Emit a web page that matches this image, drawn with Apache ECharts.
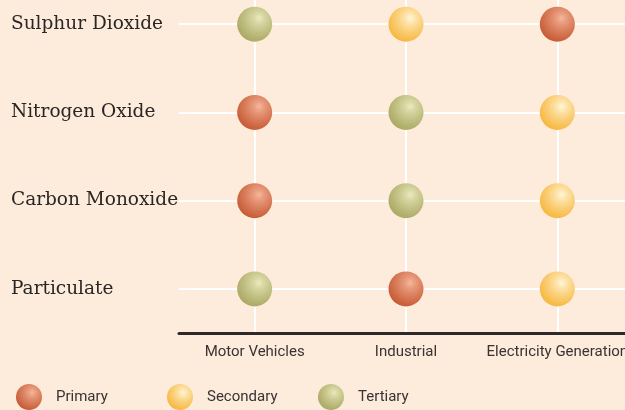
<!DOCTYPE html>
<html><head><meta charset="utf-8">
<script src="https://cdn.jsdelivr.net/npm/echarts@6/dist/echarts.min.js"></script>
<style>html,body{margin:0;padding:0;background:#fdebdb;}#c{width:625px;height:410px;}</style>
</head><body><div id="c"></div>
<script>
// ---- data ----
const sources = ['Motor Vehicles', 'Industrial', 'Electricity Generation'];
const pollutants = ['Sulphur Dioxide', 'Nitrogen Oxide', 'Carbon Monoxide', 'Particulate'];
const levels = ['Primary', 'Secondary', 'Tertiary'];
// which source has which rank, per pollutant
const primaryPoints = [['Electricity Generation','Sulphur Dioxide'],['Motor Vehicles','Nitrogen Oxide'],['Motor Vehicles','Carbon Monoxide'],['Industrial','Particulate']];
const secondaryPoints = [['Industrial','Sulphur Dioxide'],['Electricity Generation','Nitrogen Oxide'],['Electricity Generation','Carbon Monoxide'],['Electricity Generation','Particulate']];
const tertiaryPoints = [['Motor Vehicles','Sulphur Dioxide'],['Industrial','Nitrogen Oxide'],['Industrial','Carbon Monoxide'],['Motor Vehicles','Particulate']];

// ---- style ----
function mix(a, b, t) {
  const pa = a.match(/\w\w/g).map(h => parseInt(h, 16));
  const pb = b.match(/\w\w/g).map(h => parseInt(h, 16));
  t = Math.max(0, Math.min(1, t));
  return 'rgb(' + pa.map((v, i) => Math.round(v + (pb[i] - v) * t)).join(',') + ')';
}
function ball(inner, outer) {
  const stops = [];
  const n = 12;
  for (let i = 0; i < n; i++) {
    const t0 = i / n, t1 = (i + 1) / n;
    const base = Math.pow(t0, 0.8);
    stops.push({offset: t0, color: mix(inner, outer, base - 0.03)});
    stops.push({offset: t1 - 0.01, color: mix(inner, outer, base + 0.1)});
  }
  stops.push({offset: 1, color: mix(inner, outer, 1.0)});
  return {type: 'radial', x: 0.62, y: 0.33, r: 0.85, colorStops: stops};
}
const fills = [ball('f6b79c', 'bf4b24'), ball('fff6d8', 'f5ad25'), ball('ebeabd', 'a09e55')];

const labelFont = {fontFamily: 'Roboto, sans-serif'};
const legendLeft = [16, 167, 318];
const chart = echarts.init(document.getElementById('c'), null, {renderer: 'canvas'});
const gridLine = {color: '#ffffff', width: 2, type: 'solid'};
chart.setOption({
  backgroundColor: '#fdebdb',
  animation: false,
  grid: {left: 179, right: -8, top: -20, bottom: 77, containLabel: false, outerBoundsMode: 'none'},
  xAxis: {
    type: 'category', data: sources, boundaryGap: true,
    axisLine: {show: true, lineStyle: {color: '#2e2828', width: 3}},
    axisTick: {show: false}, splitLine: {show: false},
    axisLabel: Object.assign({interval: 0, margin: 12, color: '#3a3333', fontSize: 15}, labelFont)
  },
  yAxis: {
    type: 'category', data: pollutants, inverse: true, boundaryGap: true,
    axisLine: {show: false}, axisTick: {show: false}, splitLine: {show: false},
    axisLabel: {align: 'left', margin: 168, padding: [0, 0, 5, 0], color: '#2a2626', fontSize: 18.5, fontFamily: '"DejaVu Serif", serif'}
  },
  legend: levels.map((l, i) => ({
    left: legendLeft[i], top: 384, padding: 0, itemWidth: 26, itemHeight: 26, icon: 'circle',
    data: [l],
    textStyle: Object.assign({color: '#3a3333', fontSize: 15, padding: [2, 0, 0, 9]}, labelFont)
  })),
  series: [
    {type: 'line', data: [], z: 0, silent: true,
     markLine: {z: 0, zlevel: 0, silent: true, symbol: ['none', 'none'], label: {show: false}, lineStyle: gridLine,
       emphasis: {disabled: true},
       data: sources.map(s => ({xAxis: s})).concat(pollutants.map(p => ({yAxis: p})))}},
    {name: levels[0], type: 'scatter', z: 10, symbolSize: 35, data: primaryPoints, itemStyle: {color: fills[0], opacity: 1}},
    {name: levels[1], type: 'scatter', z: 10, symbolSize: 35, data: secondaryPoints, itemStyle: {color: fills[1], opacity: 1}},
    {name: levels[2], type: 'scatter', z: 10, symbolSize: 35, data: tertiaryPoints, itemStyle: {color: fills[2], opacity: 1}}
  ]
});
</script></body></html>
